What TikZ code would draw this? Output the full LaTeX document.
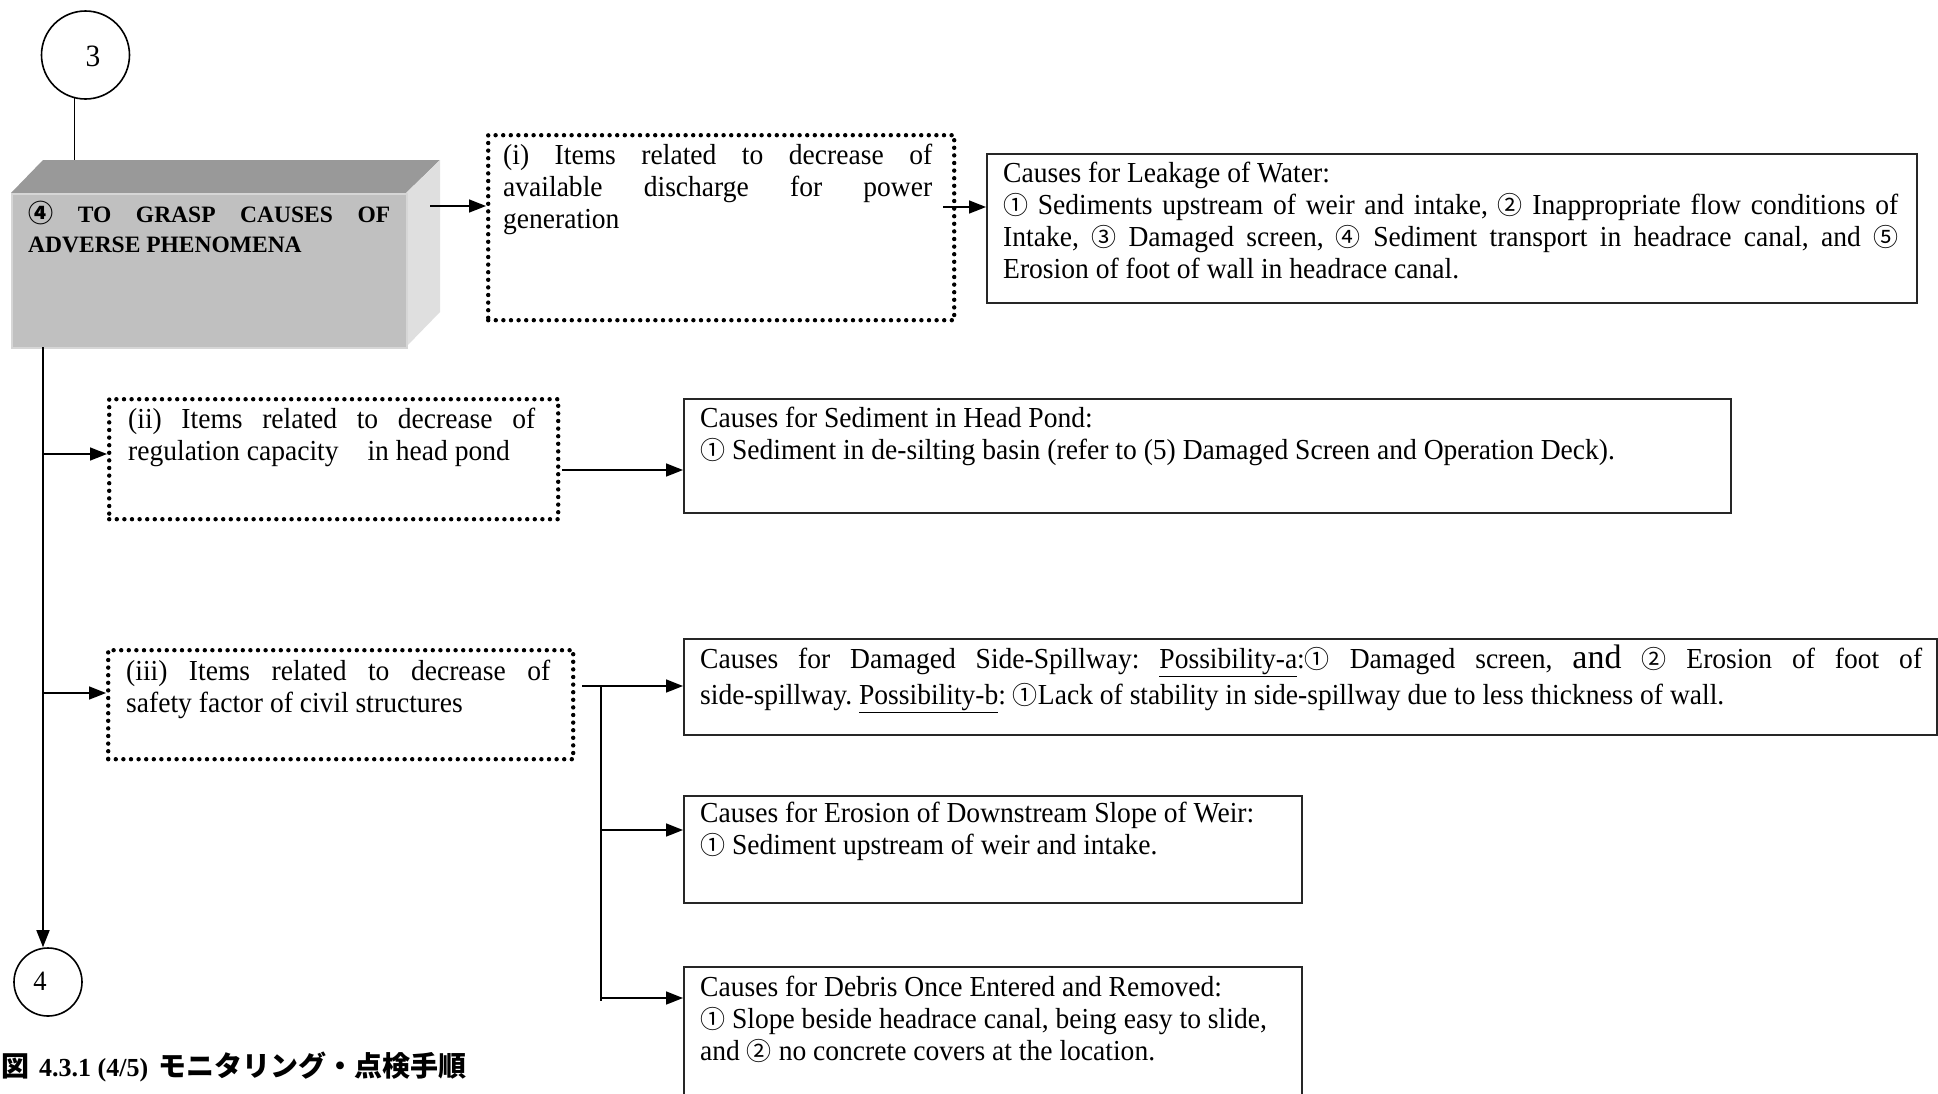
\documentclass[tikz,border=0pt]{standalone}
\usepackage{fontspec}
\setmainfont{Liberation Serif}
\newfontfamily\bodyfont[FakeStretch=0.95]{Liberation Serif}
\newfontfamily\cjkfont{Noto Sans CJK JP}
\usetikzlibrary{arrows.meta}
\newcommand\circnum[1]{{\cjkfont\fontsize{25}{32}\selectfont #1}}
\definecolor{facefront}{HTML}{C0C0C0}
\definecolor{facetop}{HTML}{999999}
\definecolor{faceside}{HTML}{DFDFDF}
\definecolor{faceedge}{HTML}{D6D6D6}
\hyphenpenalty=10000
\exhyphenpenalty=10000
\frenchspacing
\tikzset{
  conn/.style={line width=1.6pt, black},
  arr/.style={conn, -{Triangle[length=17pt,width=13pt]}},
  dotbox/.style={rectangle, draw, line width=4.4pt, dash pattern=on 0pt off 7.6pt,
    line cap=round, inner sep=0pt, anchor=north west},
  causebox/.style={rectangle, draw=black!85, line width=1.8pt, inner sep=0pt, anchor=north west},
  bodytext/.style={anchor=north west, inner sep=0pt, align=justify,
    font=\bodyfont\fontsize{29}{32}\selectfont},
  ring/.style={circle, draw, line width=1.6pt, inner sep=0pt},
}
\begin{document}
\begin{tikzpicture}[x=1pt, y=-1pt]
\useasboundingbox (0,0) rectangle (1938,1093);

% connector circles
\node[ring, minimum size=88pt] (conA) at (85.5,55) {};
\node[font=\bodyfont\fontsize{31}{31}\selectfont, inner sep=0pt] (conAlabel) at (93,56) {3};
\node[ring, minimum size=68pt] (conB) at (48,982) {};
\node[font=\bodyfont\fontsize{28}{28}\selectfont, inner sep=0pt] (conBlabel) at (40,981) {4};

% raised block: top and side faces, then the front face
\fill[facetop] (11,193) -- (43,160) -- (440,160) -- (406,193) -- cycle;
\fill[faceside] (406,193) -- (440,160) -- (440,312) -- (406,347) -- cycle;
\node[rectangle, fill=facefront, draw=faceedge, line width=2pt, inner sep=0pt,
      anchor=north west, minimum width=395pt, minimum height=154pt] (block) at (11,193) {};
\node[anchor=north west, inner sep=0pt, align=justify, text width=362pt,
      font=\bfseries\fontsize{23.5}{30}\selectfont] (blocktext) at (28,201)
  {\strut{\cjkfont\bfseries\fontsize{25}{30}\selectfont ④} TO GRASP CAUSES OF\linebreak ADVERSE PHENOMENA};
\coordinate (blocktop) at (75,160);

% item boxes
\node[dotbox, minimum width=466pt, minimum height=185pt] (itemA) at (486,133) {};
\node[bodytext, text width=429pt] (itemAtext) at (503,142)
  {\strut(i) Items related to decrease of\linebreak available discharge for power\linebreak generation};
\node[dotbox, minimum width=449pt, minimum height=120pt] (itemB) at (107,397) {};
\node[bodytext, text width=407pt] (itemBtext) at (128,406)
  {\strut(ii) Items related to decrease of\linebreak regulation capacity\quad in head pond};
\node[dotbox, minimum width=465pt, minimum height=109pt] (itemC) at (106,648) {};
\node[bodytext, text width=424pt] (itemCtext) at (126,658)
  {\strut(iii) Items related to decrease of\linebreak safety factor of civil structures};

% cause boxes
\node[causebox, minimum width=930pt, minimum height=149pt] (causeA) at (986,153) {};
\node[bodytext, text width=895pt] (causeAtext) at (1003,160)
  {\strut Causes for Leakage of Water:\newline
   \circnum{①} Sediments upstream of weir and intake, \circnum{②} Inappropriate flow conditions of\linebreak
   Intake, \circnum{③} Damaged screen, \circnum{④} Sediment transport in headrace canal, and \circnum{⑤}\linebreak
   Erosion of foot of wall in headrace canal.};

\node[causebox, minimum width=1047pt, minimum height=114pt] (causeB) at (683,398) {};
\node[bodytext, text width=1010pt] (causeBtext) at (700,405)
  {\strut Causes for Sediment in Head Pond:\newline
   \circnum{①} Sediment in de-silting basin (refer to (5) Damaged Screen and Operation Deck).};

\node[causebox, minimum width=1253pt, minimum height=96pt] (causeC) at (683,638) {};
\node[bodytext, text width=1222pt, font=\bodyfont\fontsize{29}{36}\selectfont] (causeCtext) at (700,643)
  {\strut Causes for Damaged Side-Spillway: \underline{Possibility-a}:\circnum{①} Damaged screen,
   {\rmfamily\fontsize{34}{36}\selectfont and} \circnum{②} Erosion of foot of\linebreak
   side-spillway. \underline{Possibility-b}: \circnum{①}Lack of stability in side-spillway due to less thickness of wall.};

\node[causebox, minimum width=618pt, minimum height=107pt] (causeD) at (683,795) {};
\node[bodytext, text width=595pt] (causeDtext) at (700,800)
  {\strut Causes for Erosion of Downstream Slope of Weir:\newline
   \circnum{①} Sediment upstream of weir and intake.};

\node[causebox, minimum width=618pt, minimum height=170pt] (causeE) at (683,966) {};
\node[bodytext, text width=600pt] (causeEtext) at (700,974)
  {\strut Causes for Debris Once Entered and Removed:\newline
   \circnum{①} Slope beside headrace canal, being easy to slide,\newline
   and \circnum{②} no concrete covers at the location.};

% connectors
\draw[conn] (conA.256) -- (conA.256 |- blocktop);
\coordinate (mainStart) at (43,347);
\draw[arr] (mainStart) -- (mainStart |- conB.north);

\coordinate (outA) at (430,206);
\draw[arr] (outA) -- (outA -| itemA.west);
\coordinate (outAA) at (943,207);
\draw[arr] (outAA) -- (outAA -| causeA.west);

\coordinate (mainB) at (43,454);
\draw[arr] (mainB) -- (mainB -| itemB.west);
\coordinate (outB) at (562,470);
\draw[arr] (outB) -- (outB -| causeB.west);

\coordinate (mainC) at (43,693);
\draw[arr] (mainC) -- (mainC -| itemC.west);
\coordinate (outC) at (582,686);
\coordinate (forkTop) at (601,686);
\coordinate (forkD) at (601,830);
\coordinate (forkE) at (601,998);
\coordinate (forkEnd) at (601,1001);
\draw[arr] (outC) -- (outC -| causeC.west);
\draw[conn] (forkTop) -- (forkEnd);
\draw[arr] (forkD) -- (forkD -| causeD.west);
\draw[arr] (forkE) -- (forkE -| causeE.west);

% figure caption
\node[anchor=base west, inner sep=0pt] (caption) at (1,1076)
  {{\cjkfont\bfseries\fontsize{28}{30}\selectfont 図}\hspace{10pt}%
   {\bfseries\fontsize{26}{30}\selectfont 4.3.1 (4/5)}\hspace{10pt}%
   {\cjkfont\bfseries\fontsize{28}{30}\selectfont モニタリング・点検手順}};
\end{tikzpicture}
\end{document}
